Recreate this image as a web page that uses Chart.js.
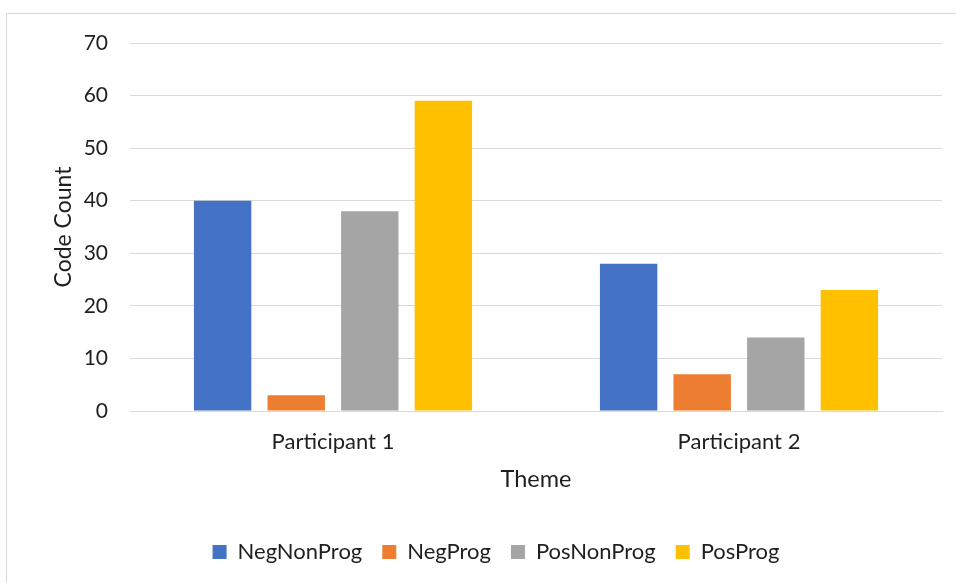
<!DOCTYPE html>
<html>
<head>
<meta charset="utf-8">
<script src="https://cdn.jsdelivr.net/npm/chart.js@4/dist/chart.umd.min.js"></script>
<style>
  html, body { margin: 0; padding: 0; background: #fff; }
  #wrap { width: 956px; height: 582px; position: relative; }
</style>
</head>
<body>
<div id="wrap"><canvas id="chart" width="956" height="582"></canvas></div>
<script>
// Code counts per theme for each participant
const categories = ['Participant 1', 'Participant 2'];
const seriesNames = ['NegNonProg', 'NegProg', 'PosNonProg', 'PosProg'];
const negNonProg = [40, 28];
const negProg = [3, 7];
const posNonProg = [38, 14];
const posProg = [59, 23];
const yTicks = [0, 10, 20, 30, 40, 50, 60, 70];

const seriesValues = [negNonProg, negProg, posNonProg, posProg];
const seriesColors = ['#4472C4', '#ED7D31', '#A5A5A5', '#FFC000'];

const FONT = 'Lato, "Open Sans", sans-serif';
const TEXT = '#1f1f1f';
const GRID = '#d9d9d9';

// Light frame around the whole chart
const framePlugin = {
  id: 'frame',
  beforeDraw(chart) {
    const ctx = chart.ctx;
    ctx.save();
    ctx.fillStyle = '#ffffff';
    ctx.fillRect(0, 0, chart.width, chart.height);
    ctx.strokeStyle = GRID;
    ctx.lineWidth = 1;
    ctx.strokeRect(6.5, 13.5, chart.width + 20, chart.height + 20);
    ctx.restore();
  }
};

new Chart(document.getElementById('chart'), {
  type: 'bar',
  data: {
    labels: categories,
    datasets: seriesNames.map((name, i) => ({
      label: name,
      data: seriesValues[i],
      backgroundColor: seriesColors[i],
      borderWidth: 0,
      categoryPercentage: 0.725,
      barPercentage: 0.78
    }))
  },
  options: {
    responsive: false,
    animation: false,
    layout: { padding: { left: 50, top: 43, right: 14, bottom: 9 } },
    plugins: {
      tooltip: { enabled: false },
      legend: {
        position: 'bottom',
        labels: {
          boxWidth: 14,
          boxHeight: 14,
          padding: 20,
          color: TEXT,
          font: { family: FONT, size: 22 }
        }
      }
    },
    scales: {
      x: {
        grid: { display: false, drawTicks: false },
        border: { display: true, color: GRID, width: 1 },
        ticks: { color: TEXT, font: { family: FONT, size: 22 }, padding: 18 },
        title: {
          display: true,
          text: 'Theme',
          color: TEXT,
          font: { family: FONT, size: 23.5 },
          padding: { top: 0, bottom: 27 }
        },
        afterFit(scale) { scale.height = 110; }
      },
      y: {
        min: 0,
        max: 70,
        afterBuildTicks(scale) { scale.ticks = yTicks.map(v => ({ value: v })); },
        grid: { color: GRID, lineWidth: 1, drawTicks: false },
        border: { display: false },
        ticks: { color: TEXT, font: { family: FONT, size: 21 }, padding: 22 },
        title: {
          display: true,
          text: 'Code Count',
          color: TEXT,
          font: { family: FONT, size: 23 },
          padding: 0
        },
        afterFit(scale) { scale.width = 80; }
      }
    }
  },
  plugins: [framePlugin]
});
</script>
</body>
</html>
